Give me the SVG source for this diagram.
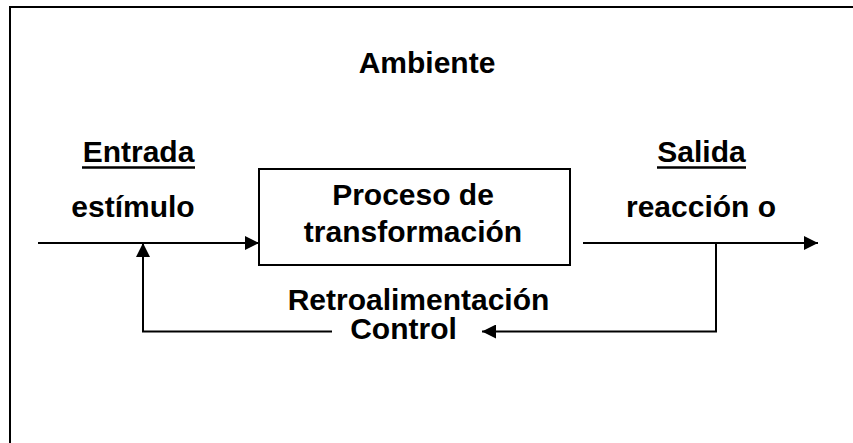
<svg xmlns="http://www.w3.org/2000/svg" width="853" height="443" viewBox="0 0 853 443">
<style>
text{font-family:"Liberation Sans",Arial,sans-serif;font-weight:bold;font-size:30px;fill:#000;text-anchor:middle}
.ln{stroke:#000;stroke-width:2;fill:none}
.u{stroke:#000;stroke-width:2.5}
</style>
<defs>
<marker id="ah" viewBox="0 0 14 14" refX="14" refY="7" markerWidth="14" markerHeight="14" markerUnits="userSpaceOnUse" orient="auto">
<path d="M0,0 L14,7 L0,14 Z" fill="#000"/>
</marker>
</defs>
<rect x="0" y="0" width="853" height="443" fill="#fff"/>
<g id="frame"><polyline class="ln" points="10,443 10,7 853,7"/></g>
<g id="ambiente"><text x="427" y="73">Ambiente</text></g>
<g id="entrada">
<text x="138.5" y="162">Entrada</text>
<line class="u" x1="82" y1="167.5" x2="195" y2="167.5"/>
<text x="133" y="217">estímulo</text>
</g>
<g id="proceso">
<rect class="ln" x="259" y="169" width="311" height="96"/>
<text x="413" y="205">Proceso de</text>
<text x="413" y="242">transformación</text>
</g>
<g id="salida">
<text x="701.5" y="162">Salida</text>
<line class="u" x1="657" y1="167.5" x2="746" y2="167.5"/>
<text x="701" y="217">reacción o</text>
</g>
<g id="retro">
<text x="418.5" y="310">Retroalimentación</text>
<text x="403.5" y="339">Control</text>
</g>
<g id="connectors">
<line class="ln" x1="38" y1="243" x2="259" y2="243" marker-end="url(#ah)"/>
<line class="ln" x1="583" y1="243" x2="818" y2="243" marker-end="url(#ah)"/>
<polyline class="ln" points="716,243 716,331.5 482,331.5" marker-end="url(#ah)"/>
<polyline class="ln" points="332,331.5 143,331.5 143,243" marker-end="url(#ah)"/>
</g>
</svg>
